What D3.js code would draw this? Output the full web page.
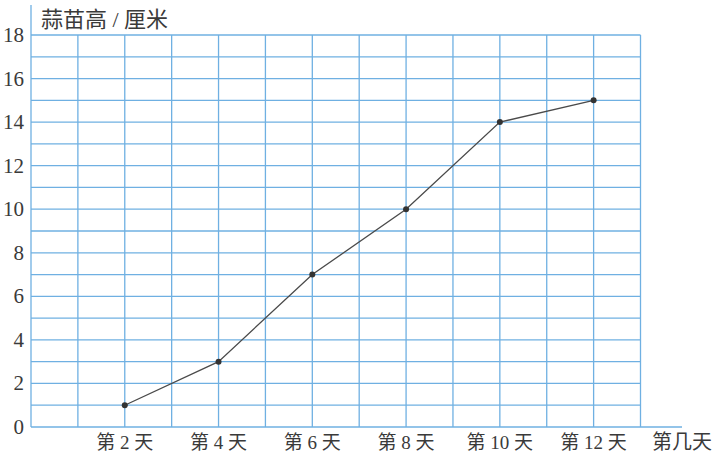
<!DOCTYPE html>
<html>
<head>
<meta charset="utf-8">
<script src="https://cdn.jsdelivr.net/npm/d3@7"></script>
<style>
  body { margin: 0; background: #fff; }
  svg { display: block; }
  .num { font-family: "Liberation Serif", "Times New Roman", "DejaVu Serif", serif; }
  .cjk { font-family: "Liberation Serif", "Times New Roman", "Noto Sans CJK SC", serif; }
</style>
</head>
<body>
<div class="chart"></div>
<script>
// days and garlic sprout height (cm)
var days = [2, 4, 6, 8, 10, 12];
var heights = [1, 3, 7, 10, 14, 15];
var dayLabels = ["第 2 天", "第 4 天", "第 6 天", "第 8 天", "第 10 天", "第 12 天"];
var yTicks = [0, 2, 4, 6, 8, 10, 12, 14, 16, 18];
var yTitle = "蒜苗高 / 厘米";
var xTitle = "第几天";

var width = 716, height = 458;
var gridColor = "#6fb0e2";
var textColor = "#3a3a3a";

var svg = d3.select(".chart")
  .append("svg")
  .attr("width", width)
  .attr("height", height);

// scales
var x = d3.scaleLinear().domain([0, 13]).range([31, 640.5]);
var y = d3.scaleLinear().domain([0, 18]).range([427, 35]);

// grid, one line per day and per cm
svg.append("g")
  .selectAll("line")
  .data(d3.range(1, 14))
  .enter()
  .append("line")
  .attr("x1", function(d){ return x(d); })
  .attr("x2", function(d){ return x(d); })
  .attr("y1", y(0))
  .attr("y2", y(18))
  .attr("stroke", gridColor)
  .attr("stroke-width", 1.3);

svg.append("g")
  .selectAll("line")
  .data(d3.range(1, 19))
  .enter()
  .append("line")
  .attr("x1", x(0))
  .attr("x2", x(13))
  .attr("y1", function(d){ return y(d); })
  .attr("y2", function(d){ return y(d); })
  .attr("stroke", gridColor)
  .attr("stroke-width", 1.3);

// axes lines
svg.append("line")
  .attr("x1", x(0)).attr("x2", x(0))
  .attr("y1", 5).attr("y2", y(0))
  .attr("stroke", gridColor)
  .attr("stroke-width", 1.3);

svg.append("line")
  .attr("x1", x(0)).attr("x2", 682)
  .attr("y1", y(0)).attr("y2", y(0))
  .attr("stroke", gridColor)
  .attr("stroke-width", 1.3);

// y tick labels
svg.append("g")
  .selectAll("text")
  .data(yTicks)
  .enter()
  .append("text")
  .attr("class", "num")
  .attr("x", 24)
  .attr("y", function(d){ return y(d) + 7; })
  .attr("text-anchor", "end")
  .attr("font-size", "21px")
  .attr("fill", textColor)
  .text(function(d){ return d; });

// x tick labels
svg.append("g")
  .selectAll("text")
  .data(days)
  .enter()
  .append("text")
  .attr("class", "cjk")
  .attr("x", function(d){ return x(d); })
  .attr("y", 449)
  .attr("text-anchor", "middle")
  .attr("font-size", "19px")
  .attr("fill", textColor)
  .text(function(d, i){ return dayLabels[i]; });

svg.append("text")
  .attr("class", "cjk")
  .attr("x", 682)
  .attr("y", 449)
  .attr("text-anchor", "middle")
  .attr("font-size", "20px")
  .attr("fill", textColor)
  .text(xTitle);

svg.append("text")
  .attr("class", "cjk")
  .attr("x", 41)
  .attr("y", 27)
  .attr("font-size", "22px")
  .attr("fill", textColor)
  .text(yTitle);

// the line
var line = d3.line()
  .x(function(d, i){ return x(days[i]); })
  .y(function(d){ return y(d); });

svg.append("path")
  .datum(heights)
  .attr("d", line)
  .attr("fill", "none")
  .attr("stroke", "#4a4a4a")
  .attr("stroke-width", 1.3);

svg.append("g")
  .selectAll("circle")
  .data(heights)
  .enter()
  .append("circle")
  .attr("cx", function(d, i){ return x(days[i]); })
  .attr("cy", function(d){ return y(d); })
  .attr("r", 3)
  .attr("fill", "#333");
</script>
</body>
</html>
